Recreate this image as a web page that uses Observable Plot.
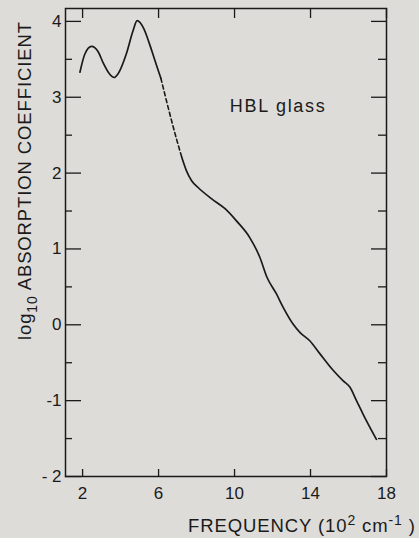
<!DOCTYPE html>
<html><head><meta charset="utf-8">
<script src="https://cdn.jsdelivr.net/npm/d3@7"></script>
<script src="https://cdn.jsdelivr.net/npm/@observablehq/plot@0.6"></script>
<style>
html,body{margin:0;padding:0;background:#dedcd8;}
#chart{width:419px;height:538px;overflow:hidden;}
</style></head><body><div id="chart"></div>
<script>
// tick values
const xTicks = [2, 6, 10, 14, 18];
const xTickLabels = ["2", "6", "10", "14", "18"];
const yTicks = [-2, -1, 0, 1, 2, 3, 4];
const yTickLabels = ["- 2", "-1", "0", "1", "2", "3", "4"];
const yMinor = [-1.5, -0.5, 0.5, 1.5, 2.5, 3.5];

// measured curve (frequency in 10^2 cm^-1, log10 absorption coefficient)
const freqA = [1.86, 2.12, 2.47, 2.82, 3.07, 3.44, 3.66, 3.87, 4.3, 4.66, 4.87, 5.19, 5.5, 5.8, 6.0, 6.12];
const logA  = [3.33, 3.57, 3.67, 3.60, 3.46, 3.30, 3.26, 3.31, 3.57, 3.88, 4.01, 3.92, 3.72, 3.49, 3.34, 3.25];
const freqDash = [6.12, 6.24, 6.5, 6.77, 7.0, 7.22];
const logDash  = [3.25, 3.13, 2.87, 2.61, 2.40, 2.21];
const freqB = [7.22, 7.47, 7.74, 8.08, 8.8, 9.5, 10.1, 10.8, 11.33, 11.7, 12.2, 12.56, 13.08, 13.44, 13.96, 14.49, 15.19, 15.72, 16.07, 16.42, 16.77, 17.47];
const logB  = [2.21, 2.03, 1.90, 1.81, 1.66, 1.53, 1.37, 1.15, 0.89, 0.63, 0.41, 0.23, 0.01, -0.10, -0.21, -0.38, -0.60, -0.74, -0.82, -1.0, -1.18, -1.51];

// annotation
const noteText = ["HBL glass"];
const noteX = [9.75];
const noteY = [2.885];

const rows = (xs, ys) => xs.map((f, i) => ({f, v: ys[i]}));
const segA = rows(freqA, logA), segD = rows(freqDash, logDash), segB = rows(freqB, logB);
const notes = noteText.map((t, i) => ({t, x: noteX[i], y: noteY[i]}));

const W = 419, H = 538, mL = 65, mR = 33, mT = 8, mB = 62;
const iW = W - mL - mR, iH = H - mT - mB;
const ink = "#1a1a1a";
const font = "'Liberation Sans', Arial, Helvetica, sans-serif";

const plot = Plot.plot({
  width: W, height: H,
  marginLeft: mL, marginRight: mR, marginTop: mT, marginBottom: mB,
  style: {background: "transparent", fontFamily: font, color: ink},
  x: {domain: [1.1, 18]},
  y: {domain: [-2, 4.17]},
  marks: [
    Plot.frame({stroke: ink, strokeWidth: 1.5}),
    Plot.tickX(xTicks, {x: d => d, insetTop: iH - 7, stroke: ink, strokeWidth: 1.3}),
    Plot.tickX(xTicks, {x: d => d, insetBottom: iH - 10, stroke: ink, strokeWidth: 1.3}),
    Plot.tickY(yTicks, {y: d => d, insetRight: iW - 16, stroke: ink, strokeWidth: 1.3}),
    Plot.tickY(yMinor, {y: d => d, insetRight: iW - 7, stroke: ink, strokeWidth: 1.3}),
    Plot.tickY(yTicks, {y: d => d, insetLeft: iW - 15, stroke: ink, strokeWidth: 1.3}),
    Plot.tickY(yMinor, {y: d => d, insetLeft: iW - 8, stroke: ink, strokeWidth: 1.3}),
    Plot.axisX(xTicks, {tickSize: 0, tickPadding: 10, fontSize: 17, label: null,
      tickFormat: d => xTickLabels[xTicks.indexOf(d)]}),
    Plot.axisY(yTicks, {tickSize: 0, tickPadding: 4, fontSize: 17, label: null,
      tickFormat: d => yTickLabels[yTicks.indexOf(d)]}),
    Plot.line(segA, {x: "f", y: "v", curve: "monotone-x", stroke: ink, strokeWidth: 1.7}),
    Plot.line(segD, {x: "f", y: "v", curve: "monotone-x", stroke: ink, strokeWidth: 1.6, strokeDasharray: "4,3"}),
    Plot.line(segB, {x: "f", y: "v", curve: "monotone-x", stroke: ink, strokeWidth: 1.7}),
    Plot.text(notes, {x: "x", y: "y", text: "t", textAnchor: "start", lineAnchor: "middle",
      fontSize: 18, fill: ink})
  ]
});
document.getElementById("chart").appendChild(plot);

const svg = d3.select(plot);
// wider letter spacing on the annotation, as in the original print
svg.selectAll("g[aria-label='text'] text").attr("letter-spacing", "1.7px");

// axis titles (with sub/superscripts)
const yl = svg.append("text")
  .attr("transform", "translate(31,181) rotate(-90)")
  .attr("text-anchor", "middle")
  .attr("font-family", font).attr("font-size", 18.5).attr("fill", ink)
  .attr("textLength", 318).attr("lengthAdjust", "spacing");
yl.append("tspan").text("log");
yl.append("tspan").attr("dy", 6).attr("font-size", 14).text("10");
yl.append("tspan").attr("dy", -6).text(" ABSORPTION COEFFICIENT");

const xl = svg.append("text")
  .attr("x", 188).attr("y", 532)
  .attr("text-anchor", "start")
  .attr("font-family", font).attr("font-size", 18.5).attr("fill", ink)
  .attr("textLength", 227).attr("lengthAdjust", "spacing");
xl.append("tspan").text("FREQUENCY (10");
xl.append("tspan").attr("dy", -7).attr("font-size", 14).text("2");
xl.append("tspan").attr("dy", 7).text(" cm");
xl.append("tspan").attr("dy", -7).attr("font-size", 14).text("-1");
xl.append("tspan").attr("dy", 7).text(" )");
</script></body></html>
